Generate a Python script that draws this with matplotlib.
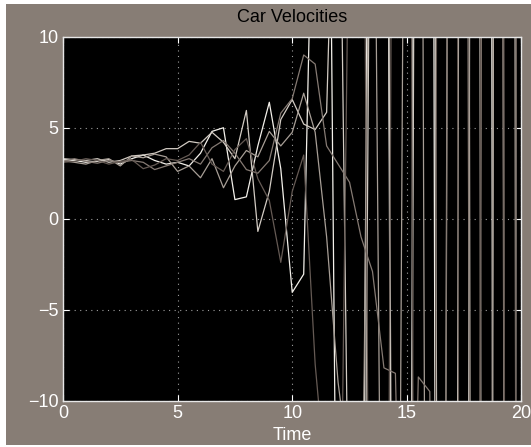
import numpy as np
import matplotlib
matplotlib.use("Agg")
import matplotlib.pyplot as plt
from matplotlib.patches import Rectangle

plt.rcParams['font.family'] = ['Liberation Sans', 'DejaVu Sans']

# sample times (s)
time = [0.0, 0.5, 1.0, 1.5, 2.0, 2.5, 3.0, 3.5, 4.0, 4.5,
        5.0, 5.5, 6.0, 6.5, 7.0, 7.5, 8.0, 8.5, 9.0, 9.5,
        10.0, 10.5, 11.0, 11.5, 12.0, 12.5, 13.0, 13.5, 14.0, 14.5,
        15.0, 15.5, 16.0, 16.5, 17.0, 17.5, 18.0, 18.5, 19.0, 19.5, 20.0]

# velocities, one list per car
car1 = [3.25, 3.2, 3.1, 3.15, 3.25, 3.0, 3.3, 3.5, 3.2, 3.0,
        3.1, 2.9, 3.6, 4.8, 5.0, 1.05, 1.2, 4.0, 6.4, 2.75,
        -4.05, -3.05, 25, 40, -30, -55, -40, 60, 75, -80,
        -110, 120, 95, -140, -160, -130, 170, 150, -190, -220, 210]
car2 = [3.3, 3.25, 3.2, 3.3, 3.1, 3.2, 3.45, 3.5, 3.6, 3.85,
        3.85, 4.25, 4.15, 4.75, 4.2, 3.3, 5.95, -0.7, 1.5, 5.45,
        6.55, 5.2, 4.9, 5.85, 28, -22, -50, 40, 65, -60,
        -85, 75, 110, -95, -130, 150, 120, -170, 160, -200, -210]
car3 = [3.2, 3.1, 3.0, 3.2, 3.3, 2.9, 3.45, 3.35, 3.55, 3.4,
        2.6, 2.9, 2.25, 3.3, 1.7, 2.9, 3.75, 3.4, 4.8, 4.0,
        4.75, 6.9, 4.75, -1.0, -9.0, -14, -25, 35, -40, -60,
        50, 80, -90, -100, 120, 140, -150, -170, 180, 160, -190]
car4 = [3.15, 3.3, 3.15, 3.05, 3.2, 3.1, 3.2, 3.1, 2.7, 2.9,
        3.1, 3.3, 3.0, 3.9, 4.3, 3.6, 2.7, 2.5, 3.2, 5.8,
        6.6, 9.0, 8.5, 4.0, 3.0, 2.0, -1.0, -2.9, -8.2, -8.5,
        -35, -8.7, -9.5, -80, 90, 70, -110, 130, 100, -140, -120]
car5 = [3.1, 3.15, 3.3, 3.2, 3.0, 3.15, 3.25, 2.75, 2.95, 3.3,
        3.2, 3.5, 4.2, 3.0, 2.6, 3.8, 4.4, 2.2, 1.0, -2.4,
        1.5, 3.5, -8.0, -15, -30, 20, 45, -50, -70, 60,
        90, -100, -130, 110, 140, -160, -120, 180, 200, -210, 190]

cars = [car1, car2, car3, car4, car5]
colors = ['#f3f0ea', '#d2cbc3', '#a79e96', '#857a73', '#655a54']

fig = plt.figure(figsize=(5.31, 4.47), dpi=100)
fig.patch.set_facecolor('white')
# grey figure panel (slightly inset like the screenshot)
fig.patches.append(Rectangle((0.0113, 0.0045), 0.9887, 0.9866,
                             transform=fig.transFigure, facecolor='#877d75',
                             edgecolor='none', zorder=-10))

ax = fig.add_axes([0.1186, 0.1038, 0.8635, 0.8139])
ax.set_facecolor('black')

for v, c in zip(cars, colors):
    ax.plot(time, v, color=c, lw=0.9)

ax.set_xlim(0, 20)
ax.set_ylim(-10, 10)
ax.set_xticks([0, 5, 10, 15, 20])
ax.set_yticks([-10, -5, 0, 5, 10])
ax.grid(True, color='#a0a0a0', linestyle=(0, (1, 4)), lw=0.8)
ax.set_axisbelow(True)

for s in ax.spines.values():
    s.set_color('#e6e6e6')
    s.set_linewidth(1.0)
ax.tick_params(direction='in', length=4, width=0.8, color='white',
               labelcolor='white', labelsize=13, top=True, right=True, pad=3)

fig.text(292 / 531, 1 - 436 / 447, 'Time', ha='center', va='center',
         fontsize=13, color='white')
fig.text(292 / 531, 1 - 17 / 447, 'Car Velocities', ha='center', va='center',
         fontsize=13, color='black')

fig.savefig('out.png', dpi=100, facecolor=fig.get_facecolor())
